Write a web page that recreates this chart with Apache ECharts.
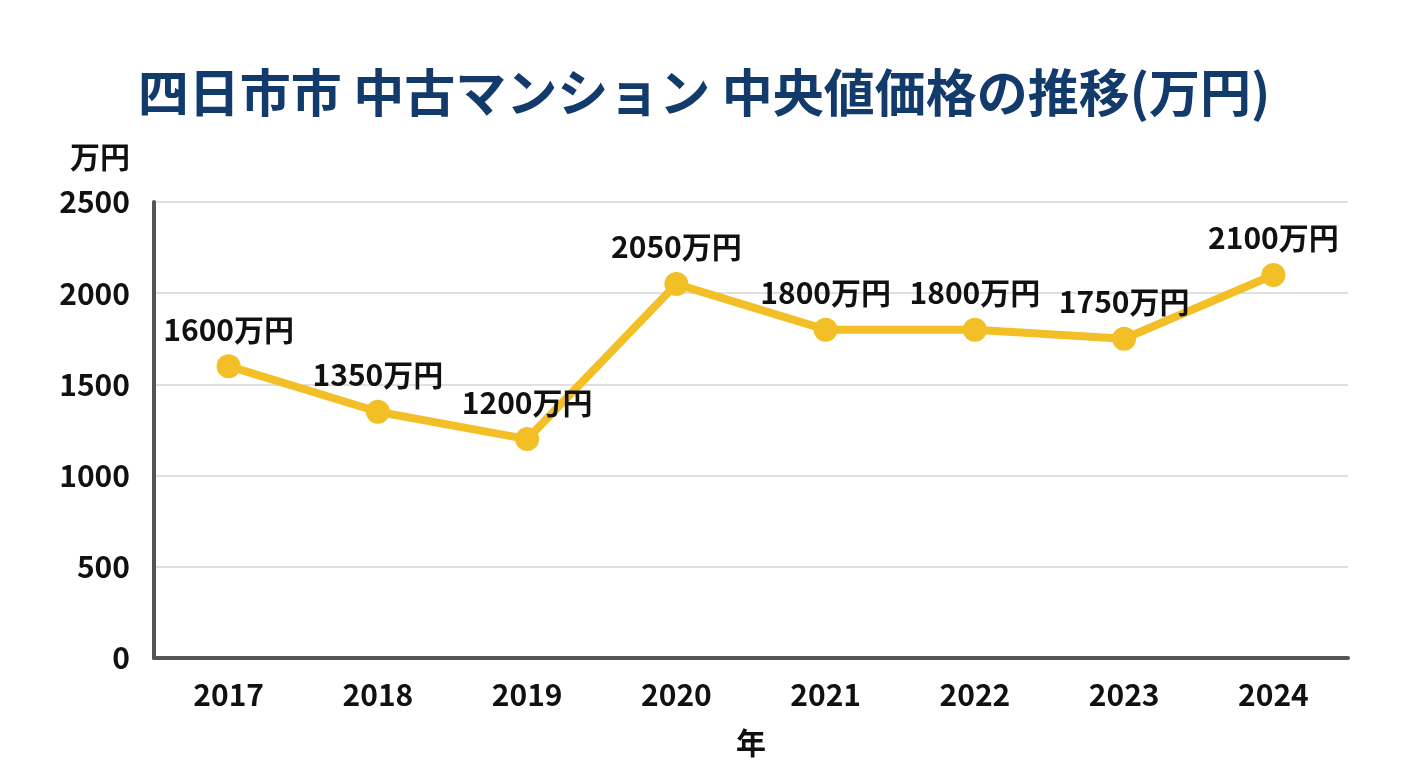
<!DOCTYPE html>
<html>
<head>
<meta charset="utf-8">
<script src="https://cdn.jsdelivr.net/npm/echarts@6/dist/echarts.min.js"></script>
<style>
html, body { margin: 0; padding: 0; background: #fff; }
#chart { width: 1408px; height: 768px; }
</style>
</head>
<body>
<div id="chart"></div>
<script>
var years = ['2017', '2018', '2019', '2020', '2021', '2022', '2023', '2024'];
var prices = [1600, 1350, 1200, 2050, 1800, 1800, 1750, 2100];

var font = '"Noto Sans CJK JP", "Noto Sans", sans-serif';
var chart = echarts.init(document.getElementById('chart'));

var option = {
    backgroundColor: '#fff',
    title: {
        text: '四日市市 中古マンション 中央値価格の推移(万円)',
        left: 'center',
        top: 62,
        textStyle: {
            color: '#123a6b',
            fontSize: 51,
            fontWeight: 'bold',
            fontFamily: font
        }
    },
    grid: {
        left: 154,
        right: 60,
        top: 202,
        bottom: 110
    },
    xAxis: {
        type: 'category',
        data: years,
        name: '年',
        nameLocation: 'middle',
        nameGap: 70,
        nameTextStyle: { color: '#111', fontSize: 30, fontWeight: 'bold', fontFamily: font },
        axisLine: { lineStyle: { color: '#555', width: 4 } },
        axisTick: { show: false },
        axisLabel: { color: '#111', fontSize: 30, fontWeight: 'bold', fontFamily: font, margin: 22 }
    },
    yAxis: {
        type: 'value',
        min: 0,
        max: 2500,
        interval: 500,
        name: '万円',
        nameLocation: 'end',
        nameGap: 30,
        nameTextStyle: { color: '#111', fontSize: 30, fontWeight: 'bold', fontFamily: font, align: 'right', padding: [0, 24, 0, 0] },
        axisLine: { show: true, lineStyle: { color: '#555', width: 4 } },
        axisTick: { show: false },
        axisLabel: {
            color: '#111', fontSize: 30, fontWeight: 'bold', fontFamily: font, margin: 24,
            formatter: function (v) { return String(v); }
        },
        splitLine: { lineStyle: { color: '#d6d6d6', width: 1.5 } }
    },
    series: [
        {
            type: 'line',
            data: prices,
            symbol: 'circle',
            symbolSize: 24,
            lineStyle: { color: '#f2bf26', width: 8 },
            itemStyle: { color: '#f2bf26' },
            label: {
                show: true,
                position: 'top',
                distance: 10,
                formatter: '{c}万円',
                color: '#111',
                fontSize: 30,
                fontWeight: 'bold',
                fontFamily: font
            }
        }
    ]
};
chart.setOption(option);
</script>
</body>
</html>
